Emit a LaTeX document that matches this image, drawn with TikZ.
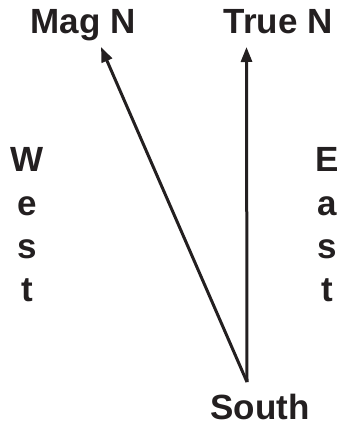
\documentclass[tikz,border=0pt]{standalone}
\usepackage{fontspec}
\setmainfont{Liberation Sans}
\usetikzlibrary{arrows.meta}
\definecolor{ink}{HTML}{231F20}
\begin{document}
\begin{tikzpicture}[x=1pt,y=-1pt,
  lbl/.style={inner sep=0pt,text=ink,font=\fontsize{35}{43.3}\selectfont\bfseries},
  stack/.style={lbl,align=center},
  needle/.style={line width=3pt,draw=ink,-{Triangle[length=15pt,width=11pt]}}]
\useasboundingbox (0,0) rectangle (340,425);
\node[lbl,anchor=base] (magn) at (83,34) {Mag N};
\node[lbl,anchor=base] (truen) at (278,34) {True N};
\node[lbl,anchor=base] (south) at (260,419) {South};
\node[stack,anchor=center] (west) at (27,225) {W\\e\\s\\t};
\node[stack,anchor=center] (east) at (327,225) {E\\a\\s\\t};
\coordinate (apex) at (247,382);
\coordinate (magtip) at (101,47);
\coordinate (truetip) at (246.5,47);
\draw[needle] (apex) -- (magtip);
\draw[needle] (apex) -- (truetip);
\end{tikzpicture}
\end{document}
